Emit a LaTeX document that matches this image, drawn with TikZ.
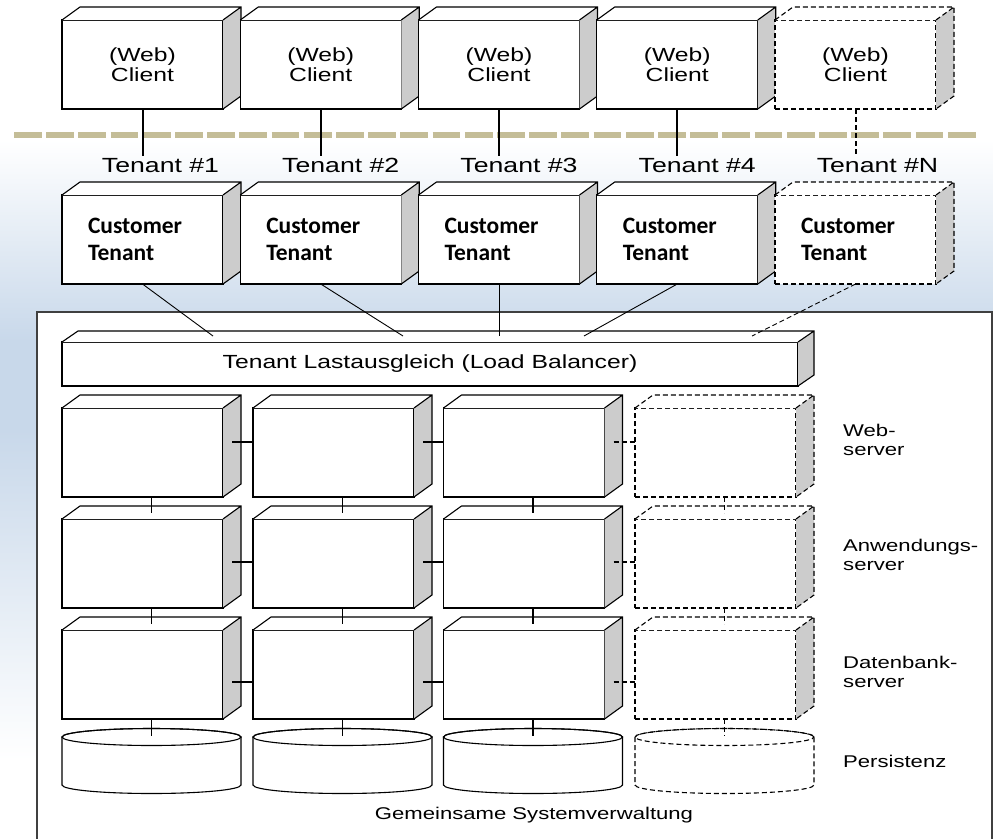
\documentclass[tikz,border=0pt]{standalone}
\usepackage{fontspec}
\setmainfont{Liberation Sans}
\newfontfamily\visiofont[FakeStretch=1.3]{Liberation Sans}
\newfontfamily\calibrifont{Carlito}
\usetikzlibrary{calc}

\definecolor{sidegray}{RGB}{204,204,204}
\definecolor{sepline}{RGB}{196,189,151}
\definecolor{bgblue}{RGB}{200,216,234}
\definecolor{framegray}{RGB}{64,64,64}

\tikzset{
	boxline/.style={line width=1.1pt, black},
	cube/.style={boxline, draw, fill=white, inner sep=0pt, outer sep=0pt, minimum width=161pt, minimum height=89pt},
	ghost/.style={dash pattern=on 5pt off 3pt},
	client/.style={cube, align=center, font=\visiofont\fontsize{19}{19.7}\selectfont},
	customer/.style={cube, text width=109pt, align=left, font=\calibrifont\bfseries\fontsize{23.5}{27.5}\selectfont},
	drumnode/.style={inner sep=0pt, outer sep=0pt, minimum width=179pt, minimum height=65pt},
	tenantlabel/.style={inner sep=2pt, text height=14pt, text depth=0pt, font=\visiofont\fontsize{20.5}{22}\selectfont},
	rowlabel/.style={anchor=west, align=left, inner sep=0pt, font=\visiofont\fontsize{17}{19.5}\selectfont},
	clientlink/.style={line width=2pt},
	link/.style={line width=1.1pt},
	thinlink/.style={line width=0.9pt},
}

% top and side face of a box node: #2 = node, #3 = depth offset
\newcommand{\boxdepth}[3][]{%
	\fill[white] (#2.north west) -- ++(#3) -- ($(#2.north east)+(#3)$) -- (#2.north east) -- cycle;
	\fill[sidegray] (#2.north east) -- ++(#3) -- ($(#2.south east)+(#3)$) -- (#2.south east) -- cycle;
	\draw[boxline,#1] (#2.north west) -- ++(#3) -- ($(#2.north east)+(#3)$) -- ($(#2.south east)+(#3)$) -- (#2.south east)
		(#2.north east) -- ++(#3);
}

% database drum around a drumnode
\newcommand{\drum}[2][]{%
	\draw[boxline,fill=white,#1] ($(#2.north west)+(0,8.5)$) -- ($(#2.south west)+(0,-8.5)$)
		arc[start angle=180, end angle=360, x radius=89.5pt, y radius=8.5pt]
		-- ($(#2.north east)+(0,8.5)$)
		arc[start angle=0, end angle=180, x radius=89.5pt, y radius=8.5pt] -- cycle;
	\draw[boxline,#1] ($(#2.north)+(0,8.5)$) ellipse[x radius=89.5pt, y radius=8.5pt];
}

\begin{document}
\begin{tikzpicture}[x=1pt, y=-1pt]
	\useasboundingbox (0,0) rectangle (993,838);
	\clip (0,0) rectangle (993,838);

	% background
	\fill[white] (0,0) rectangle (993,838);
	\shade[top color=white, bottom color=bgblue] (0,140) rectangle (993,341);
	\fill[bgblue] (0,340) rectangle (993,431);
	\shade[top color=bgblue, bottom color=white] (0,430) rectangle (993,760);
	\draw[sepline, line width=6.7pt, dash pattern=on 27.7pt off 4.5pt] (14,135) -- (978,135);

	% shared system frame
	\draw[framegray, line width=2pt, fill=white] (37,850) -- (37,312) -- (992,312) -- (992,850);

	% clients
	\node[client] (c1) at (142.5,64.5) {(Web)\\Client};
	\boxdepth{c1}{18,-13}
	\node[client] (c2) at (320.75,64.5) {(Web)\\Client};
	\boxdepth{c2}{18,-13}
	\node[client] (c3) at (499,64.5) {(Web)\\Client};
	\boxdepth{c3}{18,-13}
	\node[client] (c4) at (677.25,64.5) {(Web)\\Client};
	\boxdepth{c4}{18,-13}
	\node[client, ghost] (c5) at (855.5,64.5) {(Web)\\Client};
	\boxdepth[ghost]{c5}{18,-13}

	\node[tenantlabel] (t1) at (160.5,165) {Tenant \#1};
	\node[tenantlabel] (t2) at (340.75,165) {Tenant \#2};
	\node[tenantlabel] (t3) at (519,165) {Tenant \#3};
	\node[tenantlabel] (t4) at (697.25,165) {Tenant \#4};
	\node[tenantlabel] (t5) at (877.5,165) {Tenant \#N};

	\draw[clientlink] (c1.south) -- (c1.south |- t1.north);
	\draw[clientlink] (c2.south) -- (c2.south |- t2.north);
	\draw[clientlink] (c3.south) -- (c3.south |- t3.north);
	\draw[clientlink] (c4.south) -- (c4.south |- t4.north);
	\draw[clientlink, ghost] (c5.south) -- (c5.south |- t5.north);

	% customer tenants
	\node[customer] (ct1) at (142.5,239.5) {Customer\\Tenant};
	\boxdepth{ct1}{18,-13}
	\node[customer] (ct2) at (320.75,239.5) {Customer\\Tenant};
	\boxdepth{ct2}{18,-13}
	\node[customer] (ct3) at (499,239.5) {Customer\\Tenant};
	\boxdepth{ct3}{18,-13}
	\node[customer] (ct4) at (677.25,239.5) {Customer\\Tenant};
	\boxdepth{ct4}{18,-13}
	\node[customer, ghost] (ct5) at (855.5,239.5) {Customer\\Tenant};
	\boxdepth[ghost]{ct5}{18,-13}

	% load balancer
	\node[cube, minimum width=736pt, minimum height=44pt, font=\visiofont\fontsize{19}{22}\selectfont] (lb) at (430,364) {Tenant Lastausgleich (Load Balancer)};
	\boxdepth{lb}{16,-11}

	\coordinate (lb1) at (213,336);
	\coordinate (lb2) at (403,336);
	\coordinate (lb3) at (499,336);
	\coordinate (lb4) at (584,336);
	\coordinate (lb5) at (752,336);
	\draw[thinlink] (ct1.south) -- (lb1);
	\draw[thinlink] (ct2.south) -- (lb2);
	\draw[thinlink] (ct3.south) -- (lb3);
	\draw[thinlink] (ct4.south) -- (lb4);
	\draw[thinlink, ghost] (ct5.south) -- (lb5);

	% web servers
	\node[cube] (web1) at (142.5,452.5) {};
	\boxdepth{web1}{18,-13}
	\node[cube] (web2) at (333.5,452.5) {};
	\boxdepth{web2}{18,-13}
	\node[cube] (web3) at (524,452.5) {};
	\boxdepth{web3}{18,-13}
	\node[cube, ghost] (web4) at (715.5,452.5) {};
	\boxdepth[ghost]{web4}{18,-13}

	% application servers
	\node[cube] (app1) at (142.5,563.5) {};
	\boxdepth{app1}{18,-13}
	\node[cube] (app2) at (333.5,563.5) {};
	\boxdepth{app2}{18,-13}
	\node[cube] (app3) at (524,563.5) {};
	\boxdepth{app3}{18,-13}
	\node[cube, ghost] (app4) at (715.5,563.5) {};
	\boxdepth[ghost]{app4}{18,-13}

	% database servers
	\node[cube] (db1) at (142.5,674.5) {};
	\boxdepth{db1}{18,-13}
	\node[cube] (db2) at (333.5,674.5) {};
	\boxdepth{db2}{18,-13}
	\node[cube] (db3) at (524,674.5) {};
	\boxdepth{db3}{18,-13}
	\node[cube, ghost] (db4) at (715.5,674.5) {};
	\boxdepth[ghost]{db4}{18,-13}

	% persistence
	\node[drumnode] (per1) at (151.5,761) {};
	\drum{per1}
	\node[drumnode] (per2) at (342.5,761) {};
	\drum{per2}
	\node[drumnode] (per3) at (533,761) {};
	\drum{per3}
	\node[drumnode] (per4) at (724.5,761) {};
	\drum[ghost]{per4}

	% links inside the rows
	\draw[link] ($(web1.east)+(9,-10.5)$) -- ($(web2.west)+(0,-10.5)$);
	\draw[link] ($(web2.east)+(9,-10.5)$) -- ($(web3.west)+(0,-10.5)$);
	\draw[link, ghost] ($(web3.east)+(9,-10.5)$) -- ($(web4.west)+(0,-10.5)$);
	\draw[link] ($(app1.east)+(9,-1.5)$) -- ($(app2.west)+(0,-1.5)$);
	\draw[link] ($(app2.east)+(9,-1.5)$) -- ($(app3.west)+(0,-1.5)$);
	\draw[link, ghost] ($(app3.east)+(9,-1.5)$) -- ($(app4.west)+(0,-1.5)$);
	\draw[link] ($(db1.east)+(9,7.5)$) -- ($(db2.west)+(0,7.5)$);
	\draw[link] ($(db2.east)+(9,7.5)$) -- ($(db3.west)+(0,7.5)$);
	\draw[link, ghost] ($(db3.east)+(9,7.5)$) -- ($(db4.west)+(0,7.5)$);

	% links between the rows
	\draw[link] ($(web1.south)+(9,0)$) -- ($(app1.north)+(9,-6)$);
	\draw[link] ($(web2.south)+(9,0)$) -- ($(app2.north)+(9,-6)$);
	\draw[link] ($(web3.south)+(9,0)$) -- ($(app3.north)+(9,-6)$);
	\draw[link, ghost] ($(web4.south)+(9,0)$) -- ($(app4.north)+(9,-6)$);
	\draw[link] ($(app1.south)+(9,0)$) -- ($(db1.north)+(9,-6)$);
	\draw[link] ($(app2.south)+(9,0)$) -- ($(db2.north)+(9,-6)$);
	\draw[link] ($(app3.south)+(9,0)$) -- ($(db3.north)+(9,-6)$);
	\draw[link, ghost] ($(app4.south)+(9,0)$) -- ($(db4.north)+(9,-6)$);
	\draw[link] ($(db1.south)+(9,0)$) -- ($(per1.north)+(0,7.5)$);
	\draw[link] ($(db2.south)+(9,0)$) -- ($(per2.north)+(0,7.5)$);
	\draw[link] ($(db3.south)+(9,0)$) -- ($(per3.north)+(0,7.5)$);
	\draw[link, ghost] ($(db4.south)+(9,0)$) -- ($(per4.north)+(0,7.5)$);

	% row labels
	\node[rowlabel] (lweb) at (843,440) {Web-\\server};
	\node[rowlabel] (lapp) at (843,555) {Anwendungs-\\server};
	\node[rowlabel] (ldb) at (843,672) {Datenbank-\\server};
	\node[rowlabel] (lper) at (843,761) {Persistenz};
	\node[font=\visiofont\fontsize{17}{19}\selectfont, inner sep=0pt] (sysadm) at (534,815) {Gemeinsame Systemverwaltung};
\end{tikzpicture}
\end{document}
